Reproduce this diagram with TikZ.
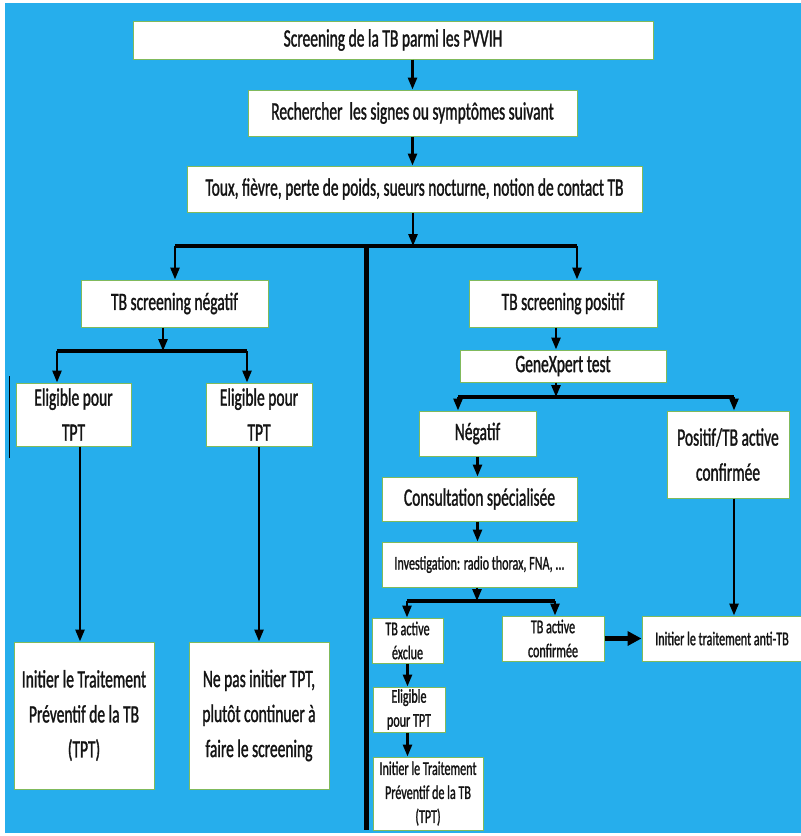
\documentclass[tikz,border=0pt]{standalone}
\usepackage{fontspec}
\setmainfont[FakeStretch=0.62, FakeBold=1.2]{Carlito}
\definecolor{skyblue}{RGB}{38,174,236}
\definecolor{boxgreen}{RGB}{128,186,92}
\definecolor{inkblack}{RGB}{20,20,20}
\usetikzlibrary{arrows.meta}
\tikzset{
	flow/.style={rectangle, draw=boxgreen, fill=white, line width=1pt, align=center, inner sep=2pt, text=inkblack, font=\fontsize{25}{35}\selectfont},
	smallflow/.style={flow, font=\fontsize{19.5}{24}\selectfont},
	arrow/.style={-{Triangle[length=12pt, width=9pt]}, line width=2.6pt, draw=black},
	bar/.style={line width=4.2pt, draw=black},
	bigarrow/.style={-{Triangle[length=14pt, width=14pt]}, line width=5pt, draw=black},
	spine/.style={line width=5pt, draw=black},
}

\begin{document}
\begin{tikzpicture}[x=1pt, y=-1pt]
	\useasboundingbox (0,0) rectangle (801,836);
	\fill[skyblue] (5,3) rectangle (801,833);
	\node[flow, minimum width=520pt, minimum height=38pt] (title) at (393,40) {Screening de la TB parmi les PVVIH};
	\node[flow, minimum width=329pt, minimum height=46pt] (search) at (412.5,113) {Rechercher~ les signes ou symptômes suivant};
	\node[flow, minimum width=455pt, minimum height=46pt] (symptoms) at (414.5,189) {Toux, fièvre, perte de poids, sueurs nocturne, notion de contact TB};
	\node[flow, minimum width=187pt, minimum height=47pt] (negscreen) at (174.5,303.5) {TB screening négatif};
	\node[flow, minimum width=188pt, minimum height=47pt] (posscreen) at (563,303.5) {TB screening positif};
	\node[flow, minimum width=115pt, minimum height=63pt] (eligA) at (73.5,414.5) {Eligible pour\\TPT};
	\node[flow, minimum width=106pt, minimum height=63pt] (eligB) at (259,414.5) {Eligible pour\\TPT};
	\node[flow, minimum width=140pt, minimum height=147pt] (tptA) at (84,715.5) {Initier le Traitement\\Préventif de la TB\\(TPT)};
	\node[flow, minimum width=140pt, minimum height=147pt] (nottpt) at (259,715.5) {Ne pas initier TPT,\\plutôt continuer à\\faire le screening};
	\node[flow, minimum width=206pt, minimum height=32pt] (xpert) at (563,366) {GeneXpert test};
	\node[flow, minimum width=117pt, minimum height=45pt] (xneg) at (477.5,433.5) {Négatif};
	\node[flow, minimum width=122pt, minimum height=87pt] (xpos) at (728,454.5) {Positif/TB active\\confirmée};
	\node[flow, minimum width=195pt, minimum height=44pt] (consult) at (479.5,499) {Consultation spécialisée};
	\node[smallflow, minimum width=195pt, minimum height=45pt] (invest) at (479.5,564.5) {Investigation: radio thorax, FNA, ...};
	\node[smallflow, minimum width=71pt, minimum height=45pt] (excl) at (407.5,640.5) {TB active\\éxclue};
	\node[smallflow, minimum width=102pt, minimum height=45pt] (conf) at (553,638.5) {TB active\\confirmée};
	\node[smallflow, minimum width=160pt, minimum height=45pt] (antitb) at (722,638.5) {Initier le traitement anti-TB};
	\node[smallflow, minimum width=72pt, minimum height=45pt] (eligC) at (409,709.5) {Eligible\\pour TPT};
	\node[smallflow, minimum width=110pt, minimum height=73pt] (tptC) at (428,793.5) {Initier le Traitement\\Préventif de la TB\\(TPT)};
	\coordinate (forkTop) at (413,246);
	\coordinate (forkTopL) at (175,246);
	\coordinate (forkTopR) at (577,246);
	\coordinate (spineTop) at (366,246);
	\coordinate (spineEnd) at (366,830);
	\coordinate (forkNeg) at (163,351);
	\coordinate (forkNegL) at (57,351);
	\coordinate (forkNegR) at (247,351);
	\coordinate (forkX) at (556,397);
	\coordinate (forkXL) at (458,397);
	\coordinate (forkXR) at (734,397);
	\coordinate (forkI) at (477,601);
	\coordinate (forkIL) at (407,601);
	\coordinate (forkIR) at (555,601);
	\draw[arrow] (title.south -| search.north) -- (search.north);
	\draw[arrow] (search.south) -- (search.south |- symptoms.north);
	\draw[arrow] (symptoms.south -| forkTop) -- (forkTop);
	\draw[bar] (forkTopL) -- (forkTopR);
	\draw[arrow] (forkTopL) -- (forkTopL |- negscreen.north);
	\draw[arrow] (forkTopR) -- (forkTopR |- posscreen.north);
	\draw[spine] (spineTop) -- (spineEnd);
	\draw[arrow] (negscreen.south -| forkNeg) -- (forkNeg);
	\draw[bar] (forkNegL) -- (forkNegR);
	\draw[arrow] (forkNegL) -- (forkNegL |- eligA.north);
	\draw[arrow] (forkNegR) -- (forkNegR |- eligB.north);
	\draw[arrow] ([xshift=6.5pt]eligA.south) -- ([xshift=6.5pt]eligA.south |- tptA.north);
	\draw[arrow] (eligB.south) -- (eligB.south |- nottpt.north);
	\draw[line width=1pt] (9,376) -- (9,458);
	\draw[arrow] ([xshift=-7pt]posscreen.south) -- ([xshift=-7pt]posscreen.south |- xpert.north);
	\draw[arrow] (xpert.south -| forkX) -- (forkX);
	\draw[bar] (forkXL) -- (forkXR);
	\draw[arrow] (forkXL) -- (forkXL |- xneg.north);
	\draw[arrow] (forkXR) -- (forkXR |- xpos.north);
	\draw[arrow] (xneg.south) -- (xneg.south |- consult.north);
	\draw[arrow] (consult.south -| xneg.south) -- (xneg.south |- invest.north);
	\draw[arrow] (invest.south -| forkI) -- (forkI);
	\draw[bar] (forkIL) -- (forkIR);
	\draw[arrow] (forkIL) -- (forkIL |- excl.north);
	\draw[arrow] (forkIR) -- (forkIR |- conf.north);
	\draw[arrow] (xpos.south -| forkXR) -- (forkXR |- antitb.north);
	\draw[bigarrow] (conf.east) -- (antitb.west);
	\draw[arrow] (excl.south) -- (excl.south |- eligC.north);
	\draw[arrow] (eligC.south -| excl.south) -- (excl.south |- tptC.north);
\end{tikzpicture}
\end{document}
